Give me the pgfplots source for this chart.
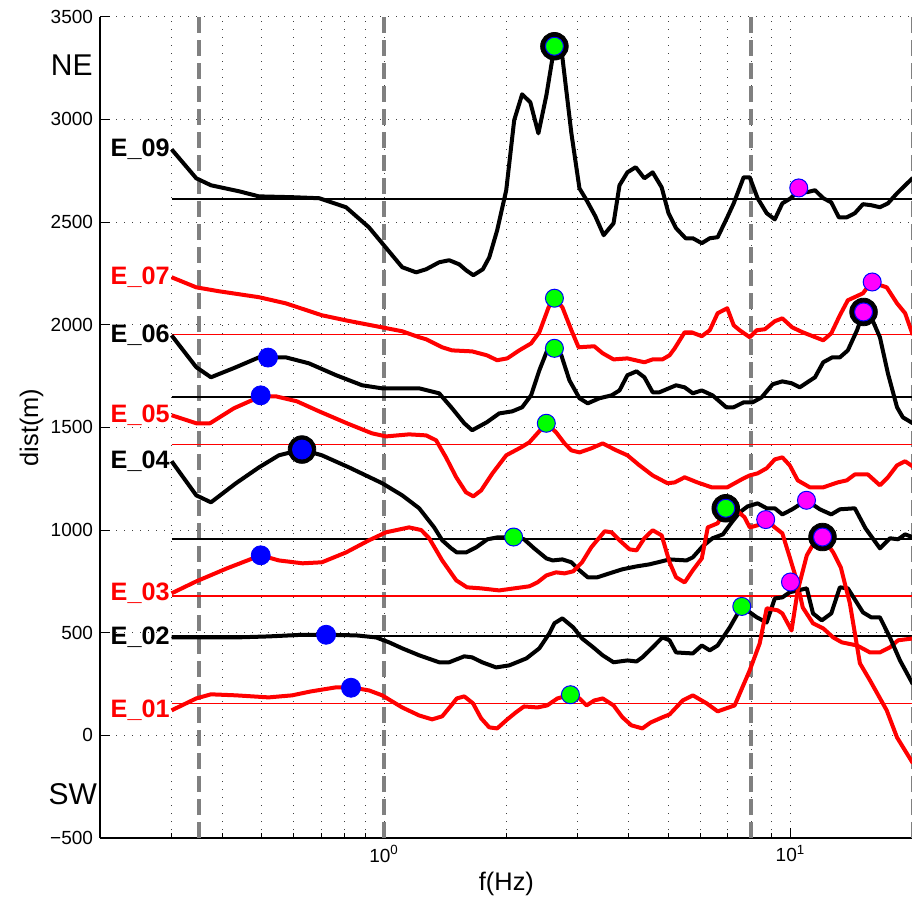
\documentclass[border=0pt]{standalone}
\usepackage{pgfplots}
\pgfplotsset{compat=1.18}
\usepackage{pgfplotstable}
\usepackage{fontspec}
\setmainfont{Liberation Sans}
\definecolor{mmag}{RGB}{255,0,255}
\definecolor{mgreen}{RGB}{0,255,0}
\definecolor{mblue}{RGB}{0,0,255}
\definecolor{mred}{RGB}{255,0,0}

\pgfplotstableread{
f v
0.30 2854
0.345 2713
0.375 2679
0.439 2650
0.492 2625
0.594 2621
0.692 2616
0.806 2572
0.918 2474
0.989 2397
1.108 2280
1.199 2255
1.269 2270
1.366 2304
1.446 2314
1.531 2294
1.592 2265
1.658 2241
1.75 2270
1.815 2328
1.898 2460
1.998 2655
2.09 2996
2.186 3122
2.29 3083
2.397 2932
2.508 3117
2.625 3356
2.746 3303
2.89 2932
3.025 2664
3.15 2606
3.31 2528
3.47 2436
3.67 2494
3.796 2679
3.97 2742
4.16 2767
4.37 2713
4.58 2742
4.82 2669
5.01 2543
5.23 2470
5.52 2421
5.75 2421
6.05 2397
6.33 2421
6.62 2426
6.99 2523
7.25 2591
7.67 2718
7.94 2718
8.30 2616
8.74 2543
9.15 2513
9.55 2591
10.02 2616
10.48 2655
10.97 2645
11.49 2655
12.04 2616
12.6 2596
13.15 2523
13.76 2523
14.4 2543
15.08 2587
15.8 2582
16.6 2572
17.37 2591
18.29 2640
20 2715
}\Eninetab

\pgfplotstableread{
f v
0.30 2231
0.345 2182
0.392 2163
0.492 2134
0.573 2104
0.703 2046
0.806 2021
0.989 1987
1.108 1968
1.22 1939
1.269 1929
1.39 1890
1.47 1875
1.647 1870
1.79 1851
1.898 1827
2.01 1836
2.151 1875
2.30 1909
2.41 1963
2.54 2085
2.625 2129
2.746 2085
2.89 1973
3.01 1890
3.29 1895
3.45 1861
3.67 1831
3.97 1836
4.37 1817
4.58 1831
4.84 1831
5.04 1851
5.19 1885
5.49 1963
5.71 1963
6.05 1944
6.33 1973
6.62 2056
6.99 2080
7.25 1997
7.50 1973
7.94 1939
8.26 1973
8.65 1978
9.15 2017
9.55 2031
10.1 1987
10.72 1963
12.04 1924
12.6 1958
13.23 2046
13.84 2119
15.08 2153
15.8 2207
17.25 2182
18.29 2104
19.15 2056
20 1950
}\Esevtab

\pgfplotstableread{
f v
0.30 1948
0.345 1793
0.375 1744
0.432 1793
0.492 1841
0.573 1841
0.653 1812
0.762 1754
0.883 1705
0.989 1690
1.22 1690
1.366 1666
1.47 1593
1.575 1520
1.647 1486
1.79 1525
1.92 1568
2.067 1578
2.186 1598
2.30 1656
2.41 1778
2.52 1875
2.625 1885
2.73 1851
2.858 1729
3.025 1642
3.17 1617
3.39 1642
3.63 1656
3.796 1680
3.97 1754
4.18 1773
4.37 1744
4.58 1671
4.76 1671
5.23 1705
5.49 1695
5.75 1666
6.05 1680
6.43 1656
6.95 1598
7.25 1598
7.67 1622
8.07 1622
8.49 1646
9.04 1710
9.55 1724
10.06 1715
10.54 1695
11.49 1744
12.04 1817
12.67 1841
13.23 1841
13.84 1875
14.58 1973
15.13 2062
15.8 2036
16.6 1939
17.37 1763
18.29 1598
18.9 1549
20 1520
}\Esixtab

\pgfplotstableread{
f v
0.30 1559
0.345 1520
0.373 1520
0.427 1593
0.497 1651
0.542 1651
0.61 1627
0.692 1578
0.81 1520
0.934 1471
1.011 1456
1.152 1466
1.269 1461
1.343 1437
1.42 1354
1.505 1257
1.59 1184
1.658 1164
1.733 1193
1.848 1276
1.998 1364
2.174 1403
2.277 1427
2.384 1471
2.508 1520
2.65 1476
2.78 1422
2.89 1388
3.025 1378
3.235 1398
3.45 1422
3.73 1388
3.97 1364
4.25 1315
4.58 1266
4.98 1228
5.19 1232
5.49 1257
5.9 1232
6.40 1208
6.99 1208
7.67 1252
7.94 1266
8.30 1276
8.74 1301
9.15 1344
9.55 1354
9.96 1315
10.42 1242
11.16 1208
12.04 1208
13.07 1232
13.76 1242
14.4 1271
15.5 1271
16.6 1218
17.37 1257
18.29 1315
19.15 1335
20 1310
}\Efivetab

\pgfplotstableread{
f v
0.30 1335
0.345 1169
0.375 1135
0.432 1228
0.492 1305
0.551 1364
0.628 1392
0.703 1364
0.82 1305
0.989 1228
1.108 1169
1.22 1106
1.328 1013
1.39 950
1.463 911
1.51 891
1.592 891
1.686 916
1.796 955
1.898 964
2.083 966
2.21 955
2.34 911
2.508 862
2.6 852
2.746 857
2.89 843
3.025 804
3.17 770
3.35 770
3.586 789
3.86 809
4.18 823
4.50 833
5.04 857
5.55 852
5.75 867
6.08 921
6.43 960
6.82 979
7.17 1038
7.50 1086
7.84 1115
8.30 1130
8.74 1106
9.15 1106
9.55 1076
10.1 1101
10.95 1145
11.81 1101
12.6 1076
13.23 1101
14.4 1106
15.3 1008
16.6 911
17.57 960
18.4 955
19.15 979
20 965
}\Efourtab

\pgfplotstableread{
f v
0.30 692
0.345 750
0.41 813
0.497 877
0.551 852
0.63 838
0.703 843
0.806 891
0.918 950
1.011 989
1.152 1013
1.234 1000
1.291 960
1.39 852
1.505 755
1.60 721
1.733 716
1.92 706
2.09 716
2.277 726
2.384 745
2.508 779
2.65 794
2.78 789
2.92 799
3.07 843
3.235 916
3.49 994
3.63 989
3.796 950
4.018 906
4.18 901
4.37 960
4.58 999
4.82 974
5.04 843
5.23 770
5.49 745
5.75 804
6.05 862
6.26 1013
6.62 1033
6.93 1106
7.29 1106
7.71 1062
7.94 1013
8.30 1023
8.69 1051
9.15 1013
9.55 984
9.96 867
10.36 755
10.72 623
11.36 546
12.04 521
12.74 477
13.38 453
14.58 438
15.69 404
16.6 404
17.57 429
18.4 463
20 472
}\Ethreetab

\pgfplotstableread{
f v
0.30 477
0.345 477
0.432 477
0.52 482
0.63 490
0.72 490
0.855 487
0.956 477
1.029 453
1.108 424
1.22 390
1.366 356
1.446 356
1.575 385
1.647 380
1.743 356
1.887 331
2.033 341
2.24 375
2.41 424
2.551 497
2.625 546
2.746 570
2.92 526
3.07 472
3.27 429
3.45 390
3.67 356
3.97 365
4.18 360
4.32 380
4.58 429
4.84 477
5.04 463
5.23 404
5.75 399
6.05 438
6.33 414
6.62 438
7.09 526
7.59 628
8.26 575
8.74 550
9.15 667
9.55 672
9.96 697
10.42 706
10.97 716
11.36 594
11.94 560
12.6 594
13.23 721
13.84 716
15.08 599
15.8 575
16.6 575
17.57 477
18.6 365
20 250
}\Etwotab

\pgfplotstableread{
f v
0.30 122
0.345 180
0.375 200
0.432 195
0.52 185
0.594 195
0.66 214
0.762 234
0.83 234
0.918 219
0.989 195
1.108 136
1.22 97
1.313 78
1.39 93
1.47 151
1.51 180
1.575 190
1.655 156
1.733 83
1.815 39
1.898 34
2.01 78
2.11 112
2.21 141
2.384 136
2.52 146
2.67 180
2.874 198
3.025 180
3.15 146
3.29 170
3.45 180
3.67 146
3.86 88
4.06 49
4.32 34
4.53 63
4.84 88
5.04 102
5.43 170
5.75 195
6.22 156
6.62 117
7.29 146
7.94 317
8.40 448
8.74 619
9.3 609
9.55 594
10.06 511
10.42 706
10.97 877
11.6 960
11.99 966
12.74 891
13.3 818
14.0 643
14.82 351
15.69 268
17.25 122
18.29 -10
20 -135
}\Eonetab

\begin{document}
\begin{tikzpicture}
\begin{axis}[
  at={(0,0)}, anchor=south west,
  scale only axis, width=406.2pt, height=410.5pt,
  xmode=log, xmin=0.2, xmax=20, ymin=-500, ymax=3500,
  axis x line=bottom, axis y line=left,
  axis line style={-, line width=0.6pt},
  tick align=inside,
  xtick={1,10}, xticklabels={10\textsuperscript{0},10\textsuperscript{1}},
  minor xtick={0.2,0.3,0.4,0.5,0.6,0.7,0.8,0.9,2,3,4,5,6,7,8,9,20},
  ytick={-500,0,500,1000,1500,2000,2500,3000,3500},
  yticklabels={−500,0,500,1000,1500,2000,2500,3000,3500},
  xmajorgrids=true, xminorgrids=true, ymajorgrids=true,
  grid style={black!75, line width=0.5pt, dash pattern=on 0.5pt off 3.5pt},
  minor grid style={black!75, line width=0.5pt, dash pattern=on 0.5pt off 3.5pt},
  major tick length=5pt, minor tick length=2.5pt,
  tick style={black, line width=0.5pt},
  tick label style={font=\fontsize{9.5}{11}\selectfont},
  xlabel={f(Hz)}, ylabel={dist(m)},
  label style={font=\fontsize{12.7}{15}\selectfont},
  xlabel style={at={(rel axis cs:0.5,-0.0564)}, anchor=center},
  ylabel style={at={(rel axis cs:-0.0842,0.5)}, anchor=center},
  clip=false,
]
% vertical dashed band limits
\addplot[gray, line width=2pt, dash pattern=on 8pt off 3.5pt, forget plot] coordinates {(0.35,-500) (0.35,3500)};
\addplot[gray, line width=2pt, dash pattern=on 8pt off 3.5pt, forget plot] coordinates {(1,-500) (1,3500)};
\addplot[gray, line width=2pt, dash pattern=on 8pt off 3.5pt, forget plot] coordinates {(7.98,-500) (7.98,3500)};
\addplot[gray, line width=2pt, dash pattern=on 8pt off 3.5pt, forget plot] coordinates {(20,-500) (20,3500)};
% baselines
\addplot[black, line width=1pt] coordinates {(0.3,2611) (20,2611)};
\addplot[mred, line width=0.8pt] coordinates {(0.3,1952) (20,1952)};
\addplot[black, line width=1pt] coordinates {(0.3,1650) (20,1650)};
\addplot[mred, line width=0.8pt] coordinates {(0.3,1416) (20,1416)};
\addplot[black, line width=1pt] coordinates {(0.3,956) (20,956)};
\addplot[mred, line width=0.8pt] coordinates {(0.3,678) (20,678)};
\addplot[black, line width=1pt] coordinates {(0.3,484) (20,484)};
\addplot[mred, line width=0.8pt] coordinates {(0.3,156) (20,156)};
% curves
\addplot[black, line width=2pt, line join=round] table[x=f,y=v] {\Eninetab};
\addplot[mred, line width=2pt, line join=round] table[x=f,y=v] {\Esevtab};
\addplot[black, line width=2pt, line join=round] table[x=f,y=v] {\Esixtab};
\addplot[mred, line width=2pt, line join=round] table[x=f,y=v] {\Efivetab};
\addplot[black, line width=2pt, line join=round] table[x=f,y=v] {\Efourtab};
\addplot[mred, line width=2pt, line join=round] table[x=f,y=v] {\Ethreetab};
\addplot[black, line width=2pt, line join=round] table[x=f,y=v] {\Etwotab};
\addplot[mred, line width=2pt, line join=round] table[x=f,y=v] {\Eonetab};
% black rings
\addplot[only marks, mark=*, mark size=6.9pt, mark options={fill=black, draw=black}] coordinates {
(2.625,3356) (15.13,2062) (0.628,1392) (6.93,1106) (11.99,966)};
% blue markers
\addplot[only marks, mark=*, mark size=4.75pt, mark options={fill=mblue, draw=mblue}] coordinates {
(0.518,1840) (0.497,1656) (0.628,1392) (0.497,877) (0.72,490) (0.829,232)};
% green markers
\addplot[only marks, mark=*, mark size=4.5pt, mark options={fill=mgreen, draw=mblue, line width=0.5pt}] coordinates {
(2.625,3356) (2.625,2129) (2.625,1885) (2.507,1520) (2.083,966) (6.93,1106) (7.59,628) (2.874,198)};
% magenta markers
\addplot[only marks, mark=*, mark size=4.5pt, mark options={fill=mmag, draw=mblue, line width=0.5pt}] coordinates {
(10.48,2666) (15.89,2208) (15.13,2062) (10.95,1145) (8.69,1051) (10.0,747) (11.99,966)};
% station labels
\begin{scope}[every node/.style={anchor=east, inner sep=0.8pt, font=\bfseries\fontsize{12.6}{15}\selectfont}]
\node[text=black] at (axis cs:0.3,2854) {E\_09};
\node[text=mred]  at (axis cs:0.3,2231) {E\_07};
\node[text=black] at (axis cs:0.3,1948) {E\_06};
\node[text=mred]  at (axis cs:0.3,1559) {E\_05};
\node[text=black] at (axis cs:0.3,1335) {E\_04};
\node[text=mred]  at (axis cs:0.3,692) {E\_03};
\node[text=black] at (axis cs:0.3,477) {E\_02};
\node[text=mred]  at (axis cs:0.3,122) {E\_01};
\end{scope}
\node[font=\fontsize{15}{18}\selectfont, anchor=center] at (rel axis cs:-0.0347,0.9405) {NE};
\node[font=\fontsize{15}{18}\selectfont, anchor=center] at (rel axis cs:-0.0334,0.054) {SW};
\end{axis}
\pgfresetboundingbox
\path[use as bounding box] (-50pt,-32.65pt) rectangle (405.8pt,418.85pt);
\end{tikzpicture}
\end{document}
